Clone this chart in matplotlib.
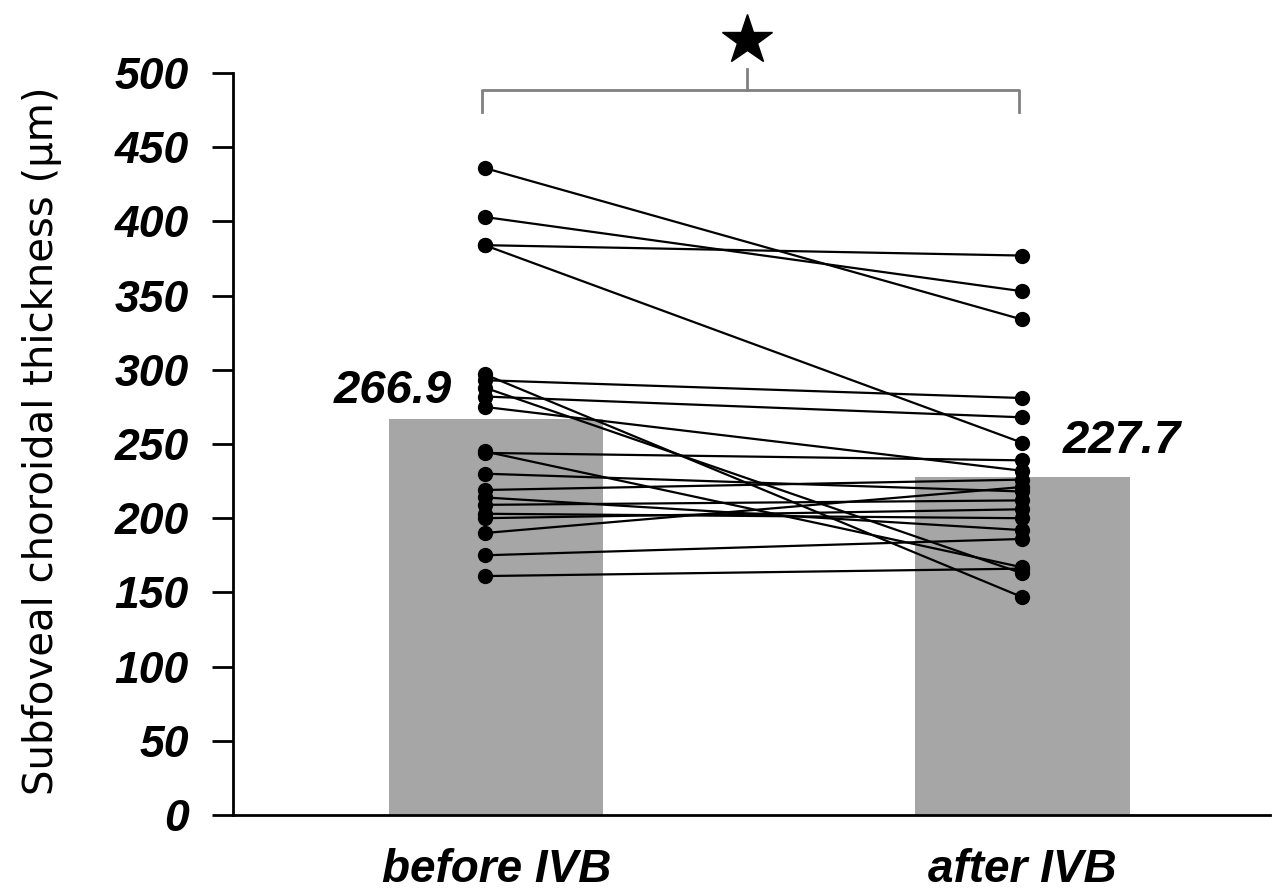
import numpy as np
import matplotlib
matplotlib.use("Agg")
import matplotlib.pyplot as plt

# data
groups = ["before IVB", "after IVB"]
means = [266.9, 227.7]
before = [436, 403, 384, 384, 297, 293, 288, 282, 275, 245, 244, 230, 219, 214, 209, 203, 200, 190, 175, 161]
after = [334, 353, 377, 251, 147, 281, 163, 268, 232, 167, 239, 218, 226, 192, 212, 200, 206, 221, 186, 166]
yticks = [0, 50, 100, 150, 200, 250, 300, 350, 400, 450, 500]

bold_it = dict(family="Liberation Sans", weight="bold", style="italic")

fig = plt.figure(figsize=(12.77, 8.94), dpi=100)
ax = fig.add_axes([0.1825, 0.0884, 0.812, 0.8299])

xpos = np.arange(len(groups))
ax.bar(xpos, means, width=0.407, color="#a6a6a6", zorder=1)

# paired lines per eye
px = [xpos[0] - 0.022, xpos[1] - 0.002]
for b, a in zip(before, after):
    ax.plot(px, [b, a], color="black", lw=1.6, marker="o", ms=11,
            markeredgewidth=0, zorder=3)

# mean labels
ax.text(-0.085, 286, f"{means[0]:.1f}", ha="right", va="center", fontsize=34, **bold_it)
ax.text(1.076, 252, f"{means[1]:.1f}", ha="left", va="center", fontsize=34, **bold_it)

# significance bracket
bx0, bx1, bmid = px[0] - 0.005, px[1] - 0.005, 0.476
ax.plot([bx0, bx0, bx1, bx1], [474, 488.5, 488.5, 474], color="#808080", lw=2,
        clip_on=False, zorder=2)
ax.plot([bmid, bmid], [488.5, 503], color="#808080", lw=2, clip_on=False)
ax.plot([bmid], [522], marker="*", color="black", ms=38, clip_on=False)

ax.set_xlim(-0.5, 1.47)
ax.set_ylim(0, 500)
ax.set_yticks(yticks)
ax.set_yticklabels([str(t) for t in yticks], fontsize=32, **bold_it)
ax.set_xticks(xpos)
ax.set_xticklabels(groups, fontsize=33, **bold_it)
ax.tick_params(axis="y", direction="out", length=15, width=2, pad=17)
ax.tick_params(axis="x", length=0, pad=24)

for s in ["top", "right"]:
    ax.spines[s].set_visible(False)
for s in ["left", "bottom"]:
    ax.spines[s].set_linewidth(2)

ax.set_ylabel("Subfoveal choroidal thickness (µm)", fontsize=29,
              family=["Liberation Sans Narrow", "DejaVu Sans"])
ax.yaxis.set_label_coords(-0.165, 0.505)

fig.savefig("out.png", dpi=100)
